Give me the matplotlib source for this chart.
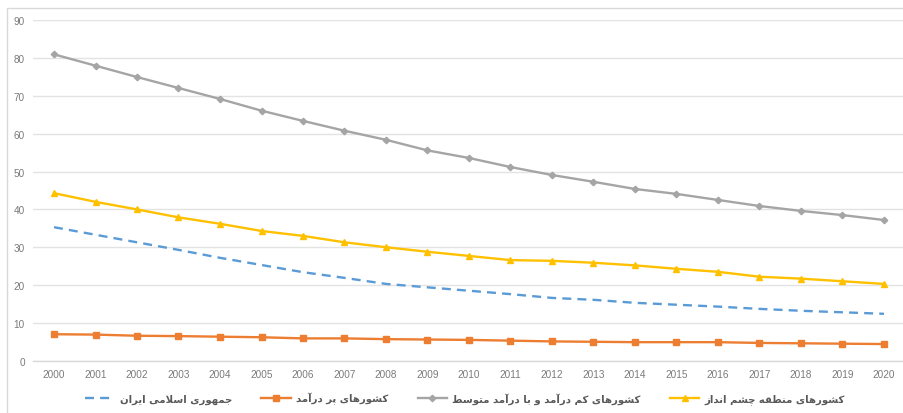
import matplotlib
matplotlib.use("Agg")
import matplotlib.pyplot as plt
from matplotlib.patches import Rectangle

# ---- data -------------------------------------------------------------
years = [str(y) for y in range(2000, 2021)]

iran = [35.3, 33.3, 31.3, 29.3, 27.2, 25.3, 23.4, 21.9, 20.3, 19.4, 18.5,
        17.6, 16.6, 16.1, 15.3, 14.8, 14.3, 13.7, 13.2, 12.8, 12.4]
high_income = [7.0, 6.9, 6.6, 6.5, 6.35, 6.2, 5.9, 5.9, 5.7, 5.6, 5.5,
               5.3, 5.1, 5.0, 4.9, 4.9, 4.9, 4.7, 4.6, 4.5, 4.4]
low_mid_income = [81.0, 78.0, 75.0, 72.1, 69.2, 66.1, 63.4, 60.8, 58.4, 55.6, 53.6,
                  51.2, 49.1, 47.3, 45.4, 44.1, 42.5, 40.9, 39.6, 38.5, 37.2]
region = [44.3, 42.0, 40.0, 37.9, 36.2, 34.3, 33.0, 31.3, 30.0, 28.8, 27.7,
          26.6, 26.4, 25.9, 25.2, 24.3, 23.5, 22.2, 21.7, 21.0, 20.3]

labels = [
    "جمهوری اسلامی ایران",
    "کشورهای پر درآمد",
    "کشورهای کم درآمد و با درآمد متوسط",
    "کشورهای منطقه چشم انداز",
]
y_ticks = list(range(0, 100, 10))

# ---- minimal Persian shaping (presentation forms + visual order) ------
# letter: (isolated, final, initial, medial); two-form letters join only to the right
FORMS = {
    "ا": ("\uFE8D", "\uFE8E"), "آ": ("\uFE81", "\uFE82"),
    "د": ("\uFEA9", "\uFEAA"), "ر": ("\uFEAD", "\uFEAE"),
    "ز": ("\uFEAF", "\uFEB0"), "و": ("\uFEED", "\uFEEE"),
    "ب": ("\uFE8F", "\uFE90", "\uFE91", "\uFE92"),
    "پ": ("\uFB56", "\uFB57", "\uFB58", "\uFB59"),
    "ت": ("\uFE95", "\uFE96", "\uFE97", "\uFE98"),
    "ج": ("\uFE9D", "\uFE9E", "\uFE9F", "\uFEA0"),
    "چ": ("\uFB7A", "\uFB7B", "\uFB7C", "\uFB7D"),
    "س": ("\uFEB1", "\uFEB2", "\uFEB3", "\uFEB4"),
    "ش": ("\uFEB5", "\uFEB6", "\uFEB7", "\uFEB8"),
    "ط": ("\uFEC1", "\uFEC2", "\uFEC3", "\uFEC4"),
    "ق": ("\uFED5", "\uFED6", "\uFED7", "\uFED8"),
    "ک": ("\uFB8E", "\uFB8F", "\uFB90", "\uFB91"),
    "ل": ("\uFEDD", "\uFEDE", "\uFEDF", "\uFEE0"),
    "م": ("\uFEE1", "\uFEE2", "\uFEE3", "\uFEE4"),
    "ن": ("\uFEE5", "\uFEE6", "\uFEE7", "\uFEE8"),
    "ه": ("\uFEE9", "\uFEEA", "\uFEEB", "\uFEEC"),
    "ی": ("\uFBFC", "\uFBFD", "\uFBFE", "\uFBFF"),
}
LAM_ALEF = {"ا": ("\uFEFB", "\uFEFC"), "آ": ("\uFEF5", "\uFEF6")}


def shape(text):
    out = []
    i = 0
    prev_dual = False
    while i < len(text):
        ch = text[i]
        if ch not in FORMS:
            out.append(ch)
            prev_dual = False
            i += 1
            continue
        nxt = text[i + 1] if i + 1 < len(text) else ""
        if ch == "ل" and nxt in LAM_ALEF:
            out.append(LAM_ALEF[nxt][1 if prev_dual else 0])
            prev_dual = False
            i += 2
            continue
        forms = FORMS[ch]
        dual = len(forms) == 4
        joins_next = dual and nxt in FORMS
        if prev_dual and joins_next:
            g = forms[3]
        elif prev_dual:
            g = forms[1]
        elif joins_next:
            g = forms[2]
        else:
            g = forms[0]
        out.append(g)
        prev_dual = dual
        i += 1
    return "".join(reversed(out))


# ---- figure -----------------------------------------------------------
W, H = 904, 414
fig = plt.figure(figsize=(W / 100, H / 100), dpi=100)
fig.patch.set_facecolor("white")

# light outline of the chart area
fig.patches.append(Rectangle((7 / W, -0.05), 1.2, (H - 9) / H + 0.05,
                             transform=fig.transFigure, fill=False,
                             edgecolor="#D9D9D9", linewidth=1.0))

left, right = 33.25 / W, 904.75 / W
bottom, top = (H - 361.7) / H, (H - 21.3) / H
ax = fig.add_axes([left, bottom, right - left, top - bottom])

x = list(range(len(years)))
grid_c = "#E3E3E3"
lw = 1.7

l1, = ax.plot(x, iran, color="#5B9BD5", lw=lw, ls=(0, (3.8, 2.6)),
              dash_capstyle="butt", zorder=3)
l2, = ax.plot(x, high_income, color="#ED7D31", lw=lw, marker="s",
              markersize=4.3, zorder=3)
l3, = ax.plot(x, low_mid_income, color="#A5A5A5", lw=lw, marker="D",
              markersize=3.3, zorder=3)
l4, = ax.plot(x, region, color="#FFC000", lw=lw, marker="^",
              markersize=4.8, zorder=3)

ax.set_xlim(-0.5, len(years) - 0.5)
ax.set_ylim(0, 90)
ax.set_yticks(y_ticks)
ax.set_xticks(x)
ax.set_xticklabels(years)
ax.yaxis.grid(True, color=grid_c, lw=1.0)
ax.set_axisbelow(True)
for s in ("left", "right", "top"):
    ax.spines[s].set_visible(False)
ax.spines["bottom"].set_color("#D9D9D9")
ax.spines["bottom"].set_linewidth(1.0)
ax.tick_params(axis="both", length=0, labelsize=7.2, labelcolor="#7A7A7A")
ax.tick_params(axis="y", pad=6)
ax.tick_params(axis="x", pad=6)
for t in ax.get_xticklabels() + ax.get_yticklabels():
    t.set_fontfamily("Liberation Sans")

leg = fig.legend([l1, l2, l3, l4], [shape(s) for s in labels],
                 loc="center", bbox_to_anchor=(465 / W, (H - 399) / H),
                 ncol=4, frameon=False, handlelength=2.9, handletextpad=0.5,
                 columnspacing=2.9, prop={"family": "DejaVu Sans", "size": 7.3,
                                          "weight": "bold"})
for t in leg.get_texts():
    t.set_color("#595959")

fig.savefig("out.png", dpi=100, facecolor="white")
